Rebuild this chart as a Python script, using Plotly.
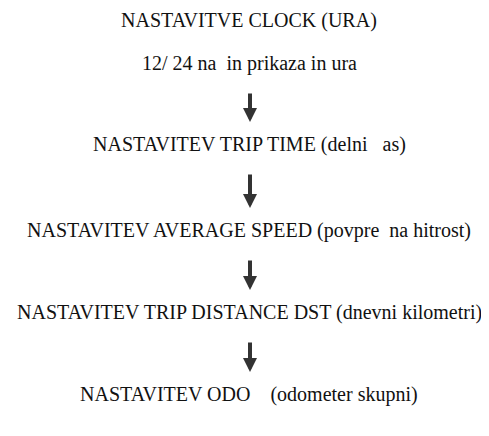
import plotly.graph_objects as go

# Flowchart steps (top to bottom)
steps = [
    "NASTAVITVE CLOCK (URA)",
    "12/ 24 na  in prikaza in ura",
    "NASTAVITEV TRIP TIME (delni   as)",
    "NASTAVITEV AVERAGE SPEED (povpre  na hitrost)",
    "NASTAVITEV TRIP DISTANCE DST (dnevni kilometri)",
    "NASTAVITEV ODO    (odometer skupni)",
]
# text centres in window pixels
step_y = [20, 63, 144, 230, 312, 394]
# arrows connect step i -> step i+1
arrow_links = [(1, 2), (2, 3), (3, 4), (4, 5)]

PAGE_MARGIN = 8          # default <body> margin of the html page
W, H = 489, 436
FW, FH = W - PAGE_MARGIN, H - PAGE_MARGIN
cx = 249
arrow_x = 250
gap_top, gap_bottom = 29, 22

FONT = "Times New Roman"

fig = go.Figure()
fig.add_trace(go.Scatter(x=[cx], y=[H / 2], mode="markers", marker=dict(opacity=0), hoverinfo="skip", showlegend=False))

for label, y in zip(steps, step_y):
    fig.add_annotation(x=cx, y=y, text=label, showarrow=False, xref="x", yref="y",
                       font=dict(family=FONT, size=20, color="#111111"),
                       xanchor="center", yanchor="middle")

for a, b in arrow_links:
    fig.add_annotation(x=arrow_x, y=step_y[b] - gap_bottom, ax=arrow_x, ay=step_y[a] + gap_top,
                       xref="x", yref="y", axref="x", ayref="y", text="", showarrow=True,
                       arrowhead=2, arrowwidth=4, arrowsize=0.7, arrowcolor="#333333")

fig.update_layout(width=FW, height=FH, margin=dict(l=0, r=0, t=0, b=0),
                  font=dict(family=FONT),
                  paper_bgcolor="white", plot_bgcolor="white", showlegend=False)
fig.update_xaxes(range=[PAGE_MARGIN, W], visible=False)
fig.update_yaxes(range=[H, PAGE_MARGIN], visible=False)

fig.write_html("out.html")
